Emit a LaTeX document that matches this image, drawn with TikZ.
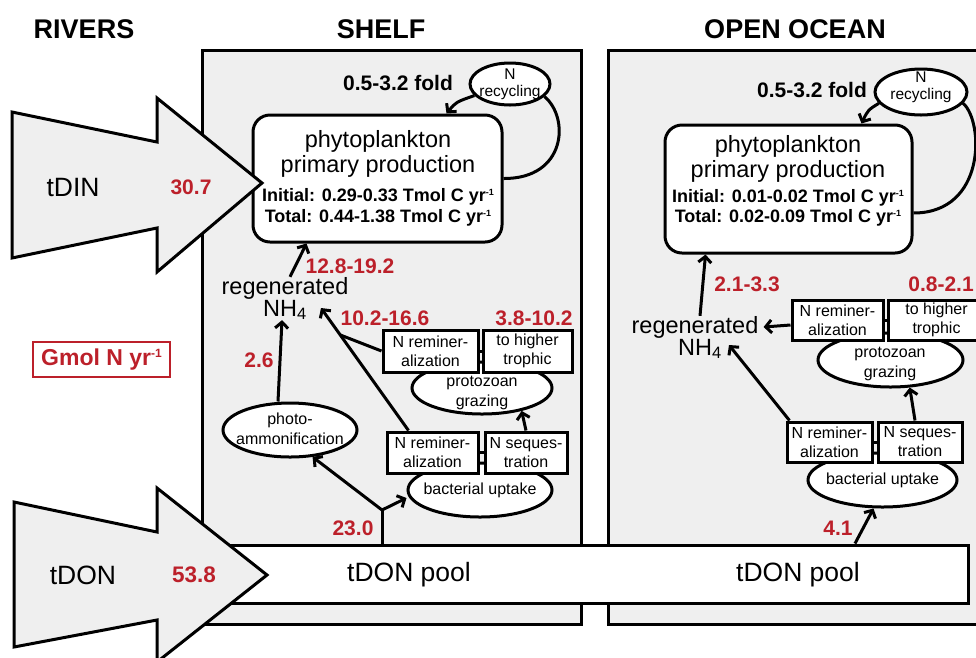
\documentclass[tikz,border=0pt]{standalone}
\usepackage{fontspec}
\setmainfont{Liberation Sans}
\usetikzlibrary{arrows.meta,shapes.geometric,calc}
\definecolor{rd}{RGB}{188,32,42}
\definecolor{bg}{RGB}{239,239,239}
\newcommand{\supmo}[1]{\raisebox{0.36em}{\fontsize{#1}{#1}\selectfont -1}}
\tikzset{
  frame/.style={draw, line width=3pt, fill=bg},
  bigarrow/.style={draw, line width=3pt, fill=bg, line join=miter},
  poolbox/.style={draw, line width=3pt, fill=white, rectangle, inner sep=0pt},
  pbox/.style={draw, line width=3pt, fill=white, rectangle, rounded corners=17pt, inner sep=0pt},
  ell/.style={draw, ellipse, line width=3pt, fill=white, inner sep=0pt},
  sbox/.style={draw, rectangle, line width=3pt, fill=white, inner sep=0pt, align=center, font=\fontsize{16}{19}\selectfont},
  arr/.style={line width=3pt, -{Straight Barb[length=6pt,width=13pt]}},
  conn/.style={line width=3pt},
  ttl/.style={inner sep=0pt, font=\fontsize{27}{30}\selectfont\bfseries},
  bigtxt/.style={inner sep=0pt, font=\fontsize{23.5}{26}\selectfont},
  inflow/.style={inner sep=0pt, font=\fontsize{26.5}{30}\selectfont},
  pptxt/.style={inner sep=0pt, font=\fontsize{18}{20}\selectfont\bfseries},
  fold/.style={inner sep=0pt, font=\fontsize{21}{24}\selectfont\bfseries},
  rlab/.style={inner sep=0pt, text=rd, font=\fontsize{21}{24}\selectfont\bfseries},
  smtxt/.style={inner sep=0pt, align=center, font=\fontsize{16}{20}\selectfont},
  rectxt/.style={inner sep=0pt, align=center, font=\fontsize{15.5}{17}\selectfont},
}
\begin{document}
\begin{tikzpicture}[x=1pt,y=-1pt]
\useasboundingbox (0,0) rectangle (976,657);
\clip (0,0) rectangle (976,657);
% titles
\node[ttl] (tr) at (84,29) {RIVERS};
\node[ttl] (ts) at (381,29) {SHELF};
\node[ttl] (to) at (795,29) {OPEN OCEAN};
% frames
\draw[frame] (202,50) rectangle (581,624);
\draw[frame] (608,50) rectangle (995,624);
% pool
\node[poolbox, minimum width=790, minimum height=58] (pool) at (573,574) {};
\node[inflow] (pool1) at (409,575) {tDON pool};
\node[inflow] (pool2) at (798,575) {tDON pool};

% ===== SHELF =====
\node[pbox, minimum width=249, minimum height=127] (sphy) at (377.5,178.5) {};
\node[bigtxt] (sphy1) at (378,141) {phytoplankton};
\node[bigtxt] (sphy2) at (378,166) {primary production};
\node[pptxt] (sphy3) at (378,197) {Initial: 0.29-0.33 Tmol C yr\supmo{9}};
\node[pptxt] (sphy4) at (378,218) {Total: 0.44-1.38 Tmol C yr\supmo{9}};
\node[ell, minimum width=80, minimum height=42] (snrec) at (510,84) {};
\node[rectxt] (snrect) at (510,84) {N\\recycling};
\node[fold] (sfold) at (398,83) {0.5-3.2 fold};
\draw[arr] (snrec.198) .. controls (456,102) .. ([xshift=195]sphy.north west);
\draw[conn] (snrec.-20) .. controls (570,118) and (566,179) .. (sphy.east);

\node[bigtxt] (sreg) at (285,288) {regenerated};
\node[bigtxt] (snh) at (285,310) {NH\textsubscript{4}};
\draw[arr] ([xshift=5]sreg.north) -- ([xshift=55]sphy.south west);

\node[ell, minimum width=140, minimum height=52] (spgz) at (482,388) {};
\node[smtxt] (spgzt) at (482,393) {protozoan\\grazing};
\node[sbox, minimum width=95, minimum height=42] (spra) at (430.5,351) {N reminer-\\alization};
\node[sbox, minimum width=89, minimum height=42] (sprb) at (527.5,351) {to higher\\trophic};
\draw[conn] (spra.east) -- (sprb.west);

\node[ell, minimum width=144, minimum height=54] (sbup) at (480,490) {};
\node[smtxt] (sbupt) at (480,490) {bacterial uptake};
\node[sbox, minimum width=91, minimum height=41] (sbra) at (432.5,452.5) {N reminer-\\alization};
\node[sbox, minimum width=82, minimum height=41] (sbrb) at (526,452.5) {N seques-\\tration};
\draw[conn] (sbra.east) -- (sbrb.west);

\node[ell, minimum width=134, minimum height=54] (spho) at (290,430) {};
\node[smtxt] (sphot) at (290,429) {photo-\\ammonification};

\draw[arr] ([xshift=-12]spho.north) -- ([xshift=-3]snh.south);
\coordinate (stip) at ([xshift=14,yshift=2]snh.east);
\coordinate (sbs) at ([xshift=-24]sbra.north);
\coordinate (smerge) at ($(sbs)!0.78!(stip)$);
\draw[arr] (sbs) -- (stip);
\draw[conn] (spra.west) -- (smerge);
\draw[arr] (sbrb.north) -- (spgz.-30);
\coordinate (sbr) at (382,510);
\draw[conn] (sbr |- pool.north) -- (sbr);
\draw[arr] (sbr) -- (spho.-50);
\draw[arr] (sbr) -- ([yshift=-8]sbup.west);

\node[rlab] (l1) at (350,266) {12.8-19.2};
\node[rlab] (l2) at (385,318) {10.2-16.6};
\node[rlab] (l3) at (534,318) {3.8-10.2};
\node[rlab] (l4) at (259,360) {2.6};
\node[rlab] (l5) at (353,528) {23.0};

% ===== OPEN OCEAN =====
\node[pbox, minimum width=247, minimum height=128] (ophy) at (788.5,189) {};
\node[bigtxt] (ophy1) at (788,146) {phytoplankton};
\node[bigtxt] (ophy2) at (788,171) {primary production};
\node[pptxt] (ophy3) at (788,198) {Initial: 0.01-0.02 Tmol C yr\supmo{9}};
\node[pptxt] (ophy4) at (788,218) {Total: 0.02-0.09 Tmol C yr\supmo{9}};
\node[ell, minimum width=92, minimum height=46] (onrec) at (921,92) {};
\node[rectxt] (onrect) at (921,87) {N\\recycling};
\node[fold] (ofold) at (812,90) {0.5-3.2 fold};
\draw[arr] (onrec.195) .. controls (868,110) .. ([xshift=198]ophy.north west);
\draw[conn] (onrec.-15) .. controls (984,122) and (986,213) .. ([yshift=-24]ophy.east);

\node[bigtxt] (oreg) at (695,327) {regenerated};
\node[bigtxt] (onh) at (700,349) {NH\textsubscript{4}};
\draw[arr] ([xshift=5]oreg.north) -- ([xshift=42]ophy.south west);

\node[ell, minimum width=145, minimum height=54] (opgz) at (890.5,360) {};
\node[smtxt] (opgzt) at (890,364) {protozoan\\grazing};
\node[sbox, minimum width=91, minimum height=40] (opra) at (837.5,320) {N reminer-\\alization};
\node[sbox, minimum width=97, minimum height=40] (oprb) at (936.5,320) {to higher\\trophic};
\draw[conn] (opra.east) -- (oprb.west);

\node[ell, minimum width=149, minimum height=54] (obup) at (882.5,480) {};
\node[smtxt] (obupt) at (882.5,480) {bacterial uptake};
\node[sbox, minimum width=85, minimum height=40] (obra) at (829.5,442) {N reminer-\\alization};
\node[sbox, minimum width=84, minimum height=40] (obrb) at (920,442) {N seques-\\tration};
\draw[conn] (obra.east) -- (obrb.west);

\draw[arr] ([yshift=-5]opra.west) -- ([xshift=5]oreg.east);
\draw[arr] ([xshift=-40]obra.north) -- ([xshift=7,yshift=4]onh.east);
\draw[arr] ([xshift=-5]obrb.north) -- (opgz.-55);
\draw[arr] ([xshift=282]pool.north) -- ([xshift=-9]obup.south);

\node[rlab] (o1) at (747,284) {2.1-3.3};
\node[rlab] (o2) at (941,284) {0.8-2.1};
\node[rlab] (o3) at (838,528) {4.1};

% ===== RIVERS =====
\draw[bigarrow] (12,112) -- (157,142) -- (157,98) -- (262,183) -- (157,272) -- (157,228) -- (12,258) -- cycle;
\draw[bigarrow] (14,502) -- (157,532) -- (157,488) -- (267,575) -- (157,662) -- (157,620) -- (14,647) -- cycle;
\node[inflow] (tdin) at (73,187) {tDIN};
\node[rlab] (vdin) at (191,187) {30.7};
\node[inflow] (tdon) at (83,575) {tDON};
\node[rlab, font=\fontsize{22.5}{25}\selectfont\bfseries] (vdon) at (194,575) {53.8};
\node[draw=rd, line width=2pt, text=rd, inner sep=0pt, font=\fontsize{23}{26}\selectfont\bfseries, minimum width=137, minimum height=35] (unit) at (101.5,359.5) {Gmol N yr\supmo{12}};
\end{tikzpicture}
\end{document}
